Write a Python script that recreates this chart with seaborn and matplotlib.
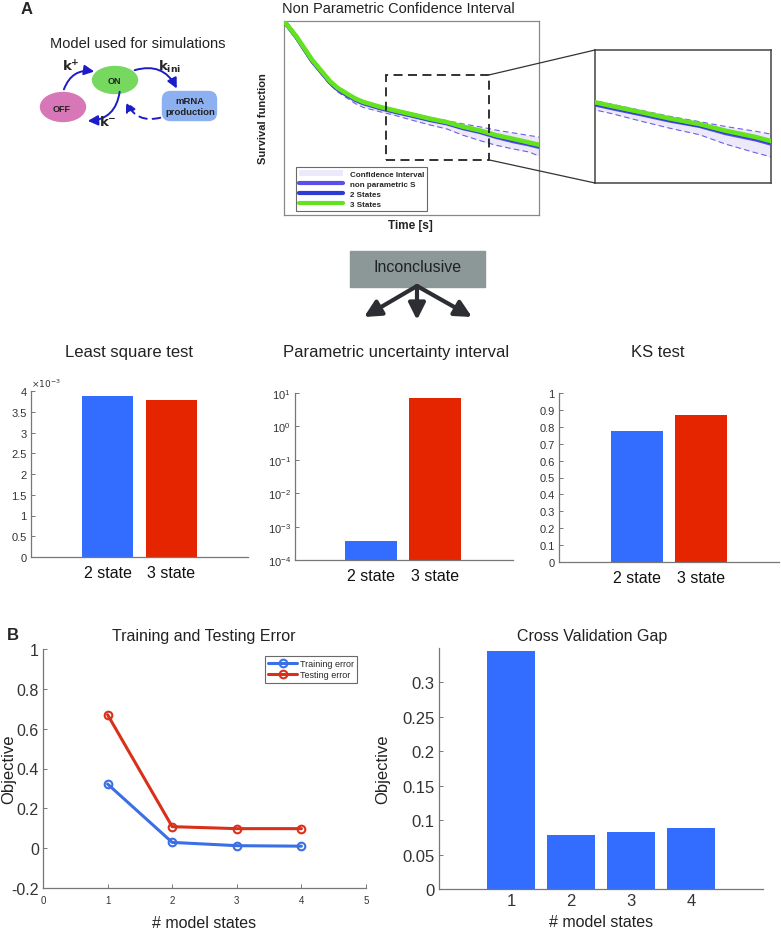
import numpy as np
import pandas as pd
import matplotlib
matplotlib.use("Agg")
import matplotlib.pyplot as plt
import seaborn as sns
from matplotlib.patches import Ellipse, FancyBboxPatch, FancyArrowPatch, Rectangle, Patch, ConnectionPatch
from matplotlib.lines import Line2D
from matplotlib.ticker import FuncFormatter, NullLocator, FixedLocator

# ---------------- data ----------------
time_s = [0, 5, 11, 18, 21, 25, 28, 31, 38, 44, 51, 57, 64, 70, 77, 83, 90, 96, 100]
surv_3states = [1.0, 0.918, 0.800, 0.690, 0.655, 0.623, 0.600, 0.583, 0.556, 0.537, 0.516, 0.497, 0.478, 0.456, 0.435, 0.412, 0.392, 0.374, 0.362]
surv_2states = [1.0, 0.914, 0.795, 0.685, 0.650, 0.618, 0.596, 0.579, 0.552, 0.533, 0.512, 0.493, 0.474, 0.452, 0.431, 0.408, 0.386, 0.370, 0.357]
surv_nonparam = [1.0, 0.915, 0.794, 0.684, 0.648, 0.615, 0.593, 0.576, 0.549, 0.530, 0.509, 0.490, 0.472, 0.448, 0.427, 0.403, 0.380, 0.364, 0.351]
ci_upper = [1.0, 0.922, 0.805, 0.695, 0.659, 0.626, 0.603, 0.586, 0.561, 0.543, 0.522, 0.504, 0.486, 0.470, 0.454, 0.438, 0.423, 0.410, 0.402]
ci_lower = [1.0, 0.908, 0.785, 0.672, 0.635, 0.600, 0.574, 0.555, 0.531, 0.512, 0.486, 0.465, 0.443, 0.412, 0.383, 0.360, 0.340, 0.325, 0.304]

test_labels = ["2 state", "3 state"]
least_square = [3.88e-3, 3.78e-3]
param_uncertainty = [3.7e-4, 7.1]
ks_stat = [0.775, 0.87]

model_states = [1, 2, 3, 4]
training_error = [0.322, 0.029, 0.0125, 0.010]
testing_error = [0.670, 0.108, 0.098, 0.098]
cv_gap = [0.345, 0.078, 0.083, 0.088]

# ---------------- style ----------------
sns.set_theme(style="white")
plt.rcParams['font.family'] = ['Liberation Sans', 'DejaVu Sans']

BLUE = "#336dff"
RED = "#e52400"
LBLUE = "#3b6fe6"
LRED = "#d9301a"
GREEN = "#63e21e"
NPBLUE = "#5b50e6"
S2BLUE = "#2b3bd4"
CIFILL = "#ece9fb"
CIDASH = "#6c60e6"
SPINE = "#777777"
TXT = "#333333"

W, H = 781, 929
fig = plt.figure(figsize=(W / 100, H / 100), dpi=100)


def px_axes(l, t, r, b, **kw):
    return fig.add_axes([l / W, 1 - b / H, (r - l) / W, (b - t) / H], **kw)


# overlay for diagram / annotations
ax0 = fig.add_axes([0, 0, 1, 1])
ax0.set_xlim(0, W)
ax0.set_ylim(H, 0)
ax0.axis('off')

# ---------------- panel labels & diagram ----------------
ax0.text(27, 9, "A", fontsize=12, fontweight='bold', ha='center', va='center')
ax0.text(13, 636, "B", fontsize=12, fontweight='bold', ha='center', va='center')
ax0.text(138, 44, "Model used for simulations", fontsize=10.5, ha='center', va='center', color='#222')

ax0.add_patch(Ellipse((115, 81), 45, 27, color="#77d860"))
ax0.add_patch(Ellipse((63, 108), 45, 29, color="#d877b7"))
ax0.add_patch(FancyBboxPatch((164, 94), 51, 26, boxstyle="round,pad=1.5,rounding_size=8", color="#8cb0f0"))
ax0.text(114, 81, "ON", fontsize=6.5, fontweight='bold', ha='center', va='center', color='#222')
ax0.text(62, 109, "OFF", fontsize=6.5, fontweight='bold', ha='center', va='center', color='#222')
ax0.text(190, 107, "mRNA\nproduction", fontsize=6.8, fontweight='bold', ha='center', va='center',
         color='#222', linespacing=1.2)

arrow_kw = dict(arrowstyle='-|>,head_length=0.5,head_width=0.25', mutation_scale=12, lw=1.4, color='#1c1cc8')
ax0.add_patch(FancyArrowPatch((63, 93), (97, 73), connectionstyle="arc3,rad=-0.45", **arrow_kw))
ax0.add_patch(FancyArrowPatch((132, 72), (178, 92), connectionstyle="arc3,rad=-0.45", **arrow_kw))
ax0.add_patch(FancyArrowPatch((120, 90), (85, 122), connectionstyle="arc3,rad=-0.45", **arrow_kw))
ax0.add_patch(FancyArrowPatch((163, 118), (125, 100), connectionstyle="arc3,rad=-0.45",
                              linestyle=(0, (4, 3)), **arrow_kw))
ax0.text(71, 67, r"$\mathbf{k^{+}}$", fontsize=9.5, ha='center', va='center')
ax0.text(170, 67, r"$\mathbf{k_{ini}}$", fontsize=9.5, ha='center', va='center')
ax0.text(108, 122, r"$\mathbf{k^{-}}$", fontsize=9.5, ha='center', va='center')

# ---------------- survival function ----------------
axS = px_axes(284, 22, 539, 216)
axI = px_axes(595, 51, 771, 184)
for ax in (axS, axI):
    ax.fill_between(time_s, ci_lower, ci_upper, color=CIFILL, lw=0, zorder=1)
    sns.lineplot(x=time_s, y=ci_upper, ax=ax, color=CIDASH, lw=0.8, linestyle=(0, (5, 3)), zorder=2)
    sns.lineplot(x=time_s, y=ci_lower, ax=ax, color=CIDASH, lw=0.8, linestyle=(0, (5, 3)), zorder=2)
    sns.lineplot(x=time_s, y=surv_nonparam, ax=ax, color=NPBLUE, lw=3.0, zorder=3)
    sns.lineplot(x=time_s, y=surv_2states, ax=ax, color=S2BLUE, lw=3.0, zorder=4)
    sns.lineplot(x=time_s, y=surv_3states, ax=ax, color=GREEN, lw=3.3, zorder=5)
    ax.set_xticks([])
    ax.set_yticks([])
    ax.set_xlabel("")
    ax.set_ylabel("")
    for s in ax.spines.values():
        s.set_visible(True)
        s.set_linewidth(0.9)
axS.set_xlim(0, 100)
axS.set_ylim(0, 1)
for s in axS.spines.values():
    s.set_color("#888888")
for s in axI.spines.values():
    s.set_color("#444444")
    s.set_linewidth(1.1)
x0z, x1z, y0z, y1z = 40, 80.4, 0.284, 0.722
axI.set_xlim(x0z, x1z)
axI.set_ylim(y0z, y1z)
axS.add_patch(Rectangle((x0z, y0z), x1z - x0z, y1z - y0z, fill=False, ls=(0, (5, 3)), lw=1.3,
                        ec='#222222', zorder=6))
for yy in (y1z, y0z):
    con = ConnectionPatch(xyA=(x1z, yy), coordsA=axS.transData, xyB=(x0z, yy), coordsB=axI.transData,
                          color='#333333', lw=0.9)
    fig.add_artist(con)

leg_handles = [Patch(facecolor=CIFILL, edgecolor='none'),
               Line2D([], [], color=NPBLUE, lw=3),
               Line2D([], [], color=S2BLUE, lw=3),
               Line2D([], [], color=GREEN, lw=3)]
leg = axS.legend(leg_handles, ["Confidence Interval", "non parametric S", "2 States", "3 States"],
                 loc='lower left', bbox_to_anchor=(0.047, 0.021), borderaxespad=0,
                 prop={'weight': 'bold', 'size': 5.8}, frameon=True, fancybox=False,
                 edgecolor='#444444', borderpad=0.35, labelspacing=0.3, handlelength=5.5,
                 handletextpad=0.8)
leg.get_frame().set_linewidth(0.8)

ax0.text(398, 9, "Non Parametric Confidence Interval", fontsize=10.5, ha='center', va='center', color='#222')
ax0.text(263, 119, "Survival function", fontsize=8, fontweight='bold', rotation=90, ha='center',
         va='center', color='#222')
ax0.text(410, 226, "Time [s]", fontsize=8.5, fontweight='bold', ha='center', va='center', color='#222')

# ---------------- Inconclusive ----------------
ax0.add_patch(Rectangle((350, 252), 135, 36, color="#8c9898"))
ax0.text(418, 267, "Inconclusive", fontsize=11.5, ha='center', va='center', color='#222')
arr2 = dict(arrowstyle='-|>,head_length=0.5,head_width=0.25', mutation_scale=20, lw=3, color='#2c2e33')
for end in [(364, 318), (417, 321), (472, 318)]:
    ax0.add_patch(FancyArrowPatch((417, 287), end, shrinkA=0, shrinkB=0, **arr2))

# ---------------- bar charts row ----------------
ax0.text(129, 352, "Least square test", fontsize=12, ha='center', va='center', color='#222')
ax0.text(396, 352, "Parametric uncertainty interval", fontsize=12, ha='center', va='center', color='#222')
ax0.text(658, 352, "KS test", fontsize=12, ha='center', va='center', color='#222')


def style_bar_axes(ax):
    sns.despine(ax=ax)
    for s in ('left', 'bottom'):
        ax.spines[s].set_color(SPINE)
        ax.spines[s].set_linewidth(0.9)
    ax.tick_params(axis='y', direction='in', length=3, width=0.7, color=SPINE, labelsize=8,
                   labelcolor=TXT, pad=3, left=True)
    ax.tick_params(axis='x', length=0, labelsize=11.5, labelcolor='#111', pad=6)
    ax.set_xlabel("")
    ax.set_ylabel("")


axB1 = px_axes(31, 392, 248, 558)
sns.barplot(x=test_labels, y=least_square, hue=test_labels, palette=[BLUE, RED], saturation=1,
            width=0.8, legend=False, ax=axB1, linewidth=0)
axB1.set_xlim(-1.2, 2.2)
axB1.set_ylim(0, 4e-3)
axB1.yaxis.set_major_locator(FixedLocator(np.arange(0, 4.01e-3, 0.5e-3)))
axB1.yaxis.set_major_formatter(FuncFormatter(lambda v, p: f"{v * 1e3:g}"))
style_bar_axes(axB1)
axB1.text(0.0, 1.01, r"$\times10^{-3}$", transform=axB1.transAxes, fontsize=6.5, ha='left', va='bottom',
          color=TXT)

axB2 = px_axes(295, 394, 513, 561)
sns.barplot(x=test_labels, y=param_uncertainty, hue=test_labels, palette=[BLUE, RED], saturation=1,
            width=0.8, legend=False, ax=axB2, linewidth=0)
axB2.set_yscale('log')
axB2.set_ylim(1e-4, 10)
axB2.set_xlim(-1.17, 2.2)
axB2.yaxis.set_major_locator(FixedLocator([1e-4, 1e-3, 1e-2, 1e-1, 1, 10]))
axB2.yaxis.set_minor_locator(NullLocator())
style_bar_axes(axB2)

axB3 = px_axes(559, 394, 779, 563)
sns.barplot(x=test_labels, y=ks_stat, hue=test_labels, palette=[BLUE, RED], saturation=1,
            width=0.8, legend=False, ax=axB3, linewidth=0)
axB3.set_xlim(-1.2, 2.2)
axB3.set_ylim(0, 1)
axB3.yaxis.set_major_locator(FixedLocator(np.round(np.arange(0, 1.01, 0.1), 1)))
axB3.yaxis.set_major_formatter(FuncFormatter(lambda v, p: f"{v:g}"))
style_bar_axes(axB3)

# ---------------- training / testing error ----------------
axL = px_axes(43, 650, 366, 889)
sns.lineplot(x=model_states, y=training_error, ax=axL, color=LBLUE, lw=2.2, marker='o', markersize=5.5,
             markerfacecolor='none', markeredgecolor=LBLUE, markeredgewidth=1.5, label="Training error")
sns.lineplot(x=model_states, y=testing_error, ax=axL, color=LRED, lw=2.2, marker='o', markersize=5.5,
             markerfacecolor='none', markeredgecolor=LRED, markeredgewidth=1.5, label="Testing error")
axL.set_xlim(0, 5)
axL.set_ylim(-0.2, 1)
axL.xaxis.set_major_locator(FixedLocator([0, 1, 2, 3, 4, 5]))
axL.yaxis.set_major_locator(FixedLocator(np.round(np.arange(-0.2, 1.01, 0.2), 1)))
axL.yaxis.set_major_formatter(FuncFormatter(lambda v, p: f"{round(v, 1):g}"))
sns.despine(ax=axL)
for s in ('left', 'bottom'):
    axL.spines[s].set_color(SPINE)
    axL.spines[s].set_linewidth(0.9)
axL.tick_params(axis='y', direction='in', length=3, width=0.7, color=SPINE, labelsize=11.5,
                labelcolor=TXT, left=True, pad=3)
axL.tick_params(axis='x', direction='in', length=3, width=0.7, color=SPINE, labelsize=7,
                labelcolor=TXT, bottom=True, pad=5)
axL.set_xlabel("# model states", fontsize=11.5, color='#222')
axL.set_ylabel("Objective", fontsize=12, color='#222')
axL.xaxis.set_label_coords(0.5, -0.112)
axL.yaxis.set_label_coords(-0.082, 0.5)
legL = axL.legend(loc='upper right', bbox_to_anchor=(0.972, 0.971), borderaxespad=0, fontsize=6.5,
                  frameon=True, fancybox=False, edgecolor='#444444', handlelength=3.2,
                  handletextpad=0.3, borderpad=0.35, labelspacing=0.25)
legL.get_frame().set_linewidth(0.8)
ax0.text(204, 636, "Training and Testing Error", fontsize=11.5, ha='center', va='center', color='#222')

# ---------------- cross validation gap ----------------
axR = px_axes(439, 649, 763, 890)
sns.barplot(x=model_states, y=cv_gap, color=BLUE, saturation=1, width=0.8, ax=axR, linewidth=0)
axR.set_xlim(-1.2, 4.2)
axR.set_ylim(0, 0.35)
axR.yaxis.set_major_locator(FixedLocator(np.round(np.arange(0, 0.301, 0.05), 2)))
axR.yaxis.set_major_formatter(FuncFormatter(lambda v, p: f"{round(v, 2):g}"))
sns.despine(ax=axR)
for s in ('left', 'bottom'):
    axR.spines[s].set_color(SPINE)
    axR.spines[s].set_linewidth(0.9)
axR.tick_params(axis='y', direction='in', length=3, width=0.7, color=SPINE, labelsize=12,
                labelcolor=TXT, left=True, pad=3)
axR.tick_params(axis='x', direction='in', length=3, width=0.7, color=SPINE, labelsize=12,
                labelcolor=TXT, bottom=True, pad=3)
axR.set_xlabel("# model states", fontsize=11.5, color='#222')
axR.set_ylabel("Objective", fontsize=12, color='#222')
axR.xaxis.set_label_coords(0.5, -0.105)
axR.yaxis.set_label_coords(-0.15, 0.5)
ax0.text(592, 636, "Cross Validation Gap", fontsize=11.5, ha='center', va='center', color='#222')

fig.savefig("out.png", dpi=100)
